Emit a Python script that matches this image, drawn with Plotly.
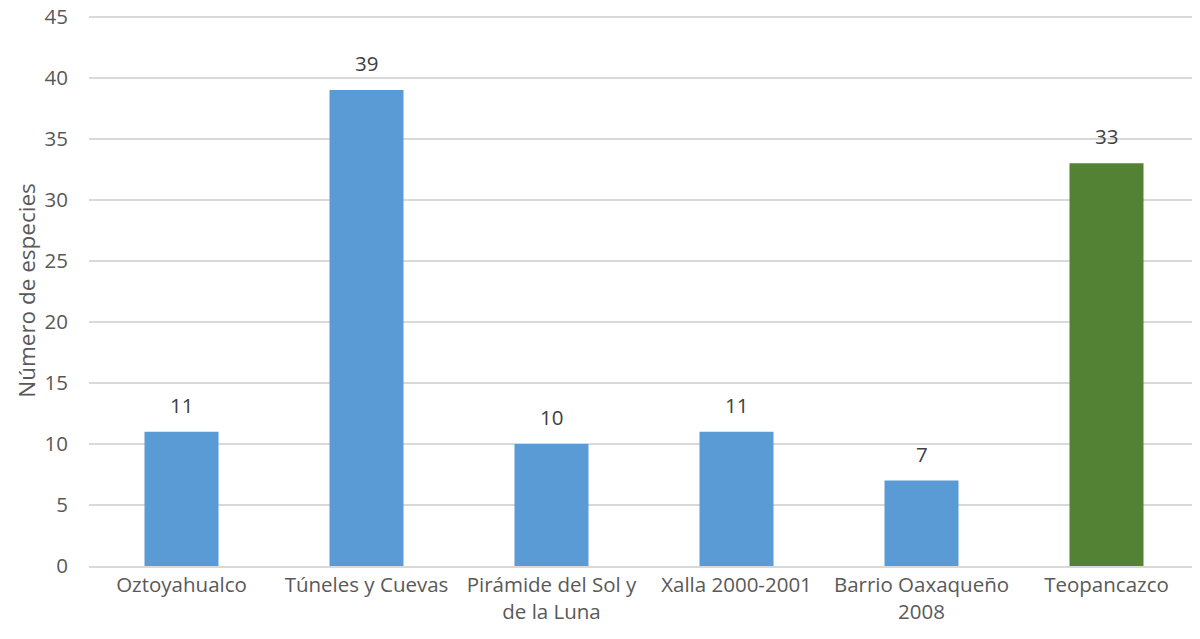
import plotly.graph_objects as go

categories = ["Oztoyahualco", "Túneles y Cuevas", "Pirámide del Sol y<br>de la Luna",
              "Xalla 2000-2001", "Barrio Oaxaqueño<br>2008", "Teopancazco"]
values = [11, 39, 10, 11, 7, 33]
colors = ["#5B9BD5", "#5B9BD5", "#5B9BD5", "#5B9BD5", "#5B9BD5", "#548235"]
y_ticks = [0, 5, 10, 15, 20, 25, 30, 35, 40, 45]

FONT = "'Open Sans', sans-serif"

fig = go.Figure()
fig.add_trace(go.Bar(
    x=categories, y=values, marker_color=colors, marker_line_width=0,
    width=0.4, showlegend=False,
))
for c, v in zip(categories, values):
    fig.add_annotation(x=c, y=v, text=str(v), showarrow=False, yanchor="bottom",
                       yshift=11, font=dict(family=FONT, size=20.5, color="#404040"))

fig.update_layout(
    width=1200, height=639,
    margin=dict(l=81, r=9, t=7, b=81),
    plot_bgcolor="white", paper_bgcolor="white",
    font=dict(family=FONT, size=20.5, color="#595959"),
)
fig.update_yaxes(
    range=[0, 45.15], tickvals=y_ticks, showgrid=True, gridcolor="#D9D9D9", gridwidth=1.5,
    zeroline=False, showline=False, ticks="", ticklabelstandoff=20,
    ticklabeloverflow="allow", automargin=False,
    title=dict(text="Número de especies", font=dict(family=FONT, size=22.5, color="#595959"), standoff=2),
    tickfont=dict(family=FONT, size=20.5, color="#595959"),
)
fig.update_xaxes(
    showline=True, linecolor="#D9D9D9", linewidth=1.5, ticks="", showgrid=False,
    automargin=False,
    tickfont=dict(family=FONT, size=20.5, color="#595959"),
)
fig.write_html("out.html")
